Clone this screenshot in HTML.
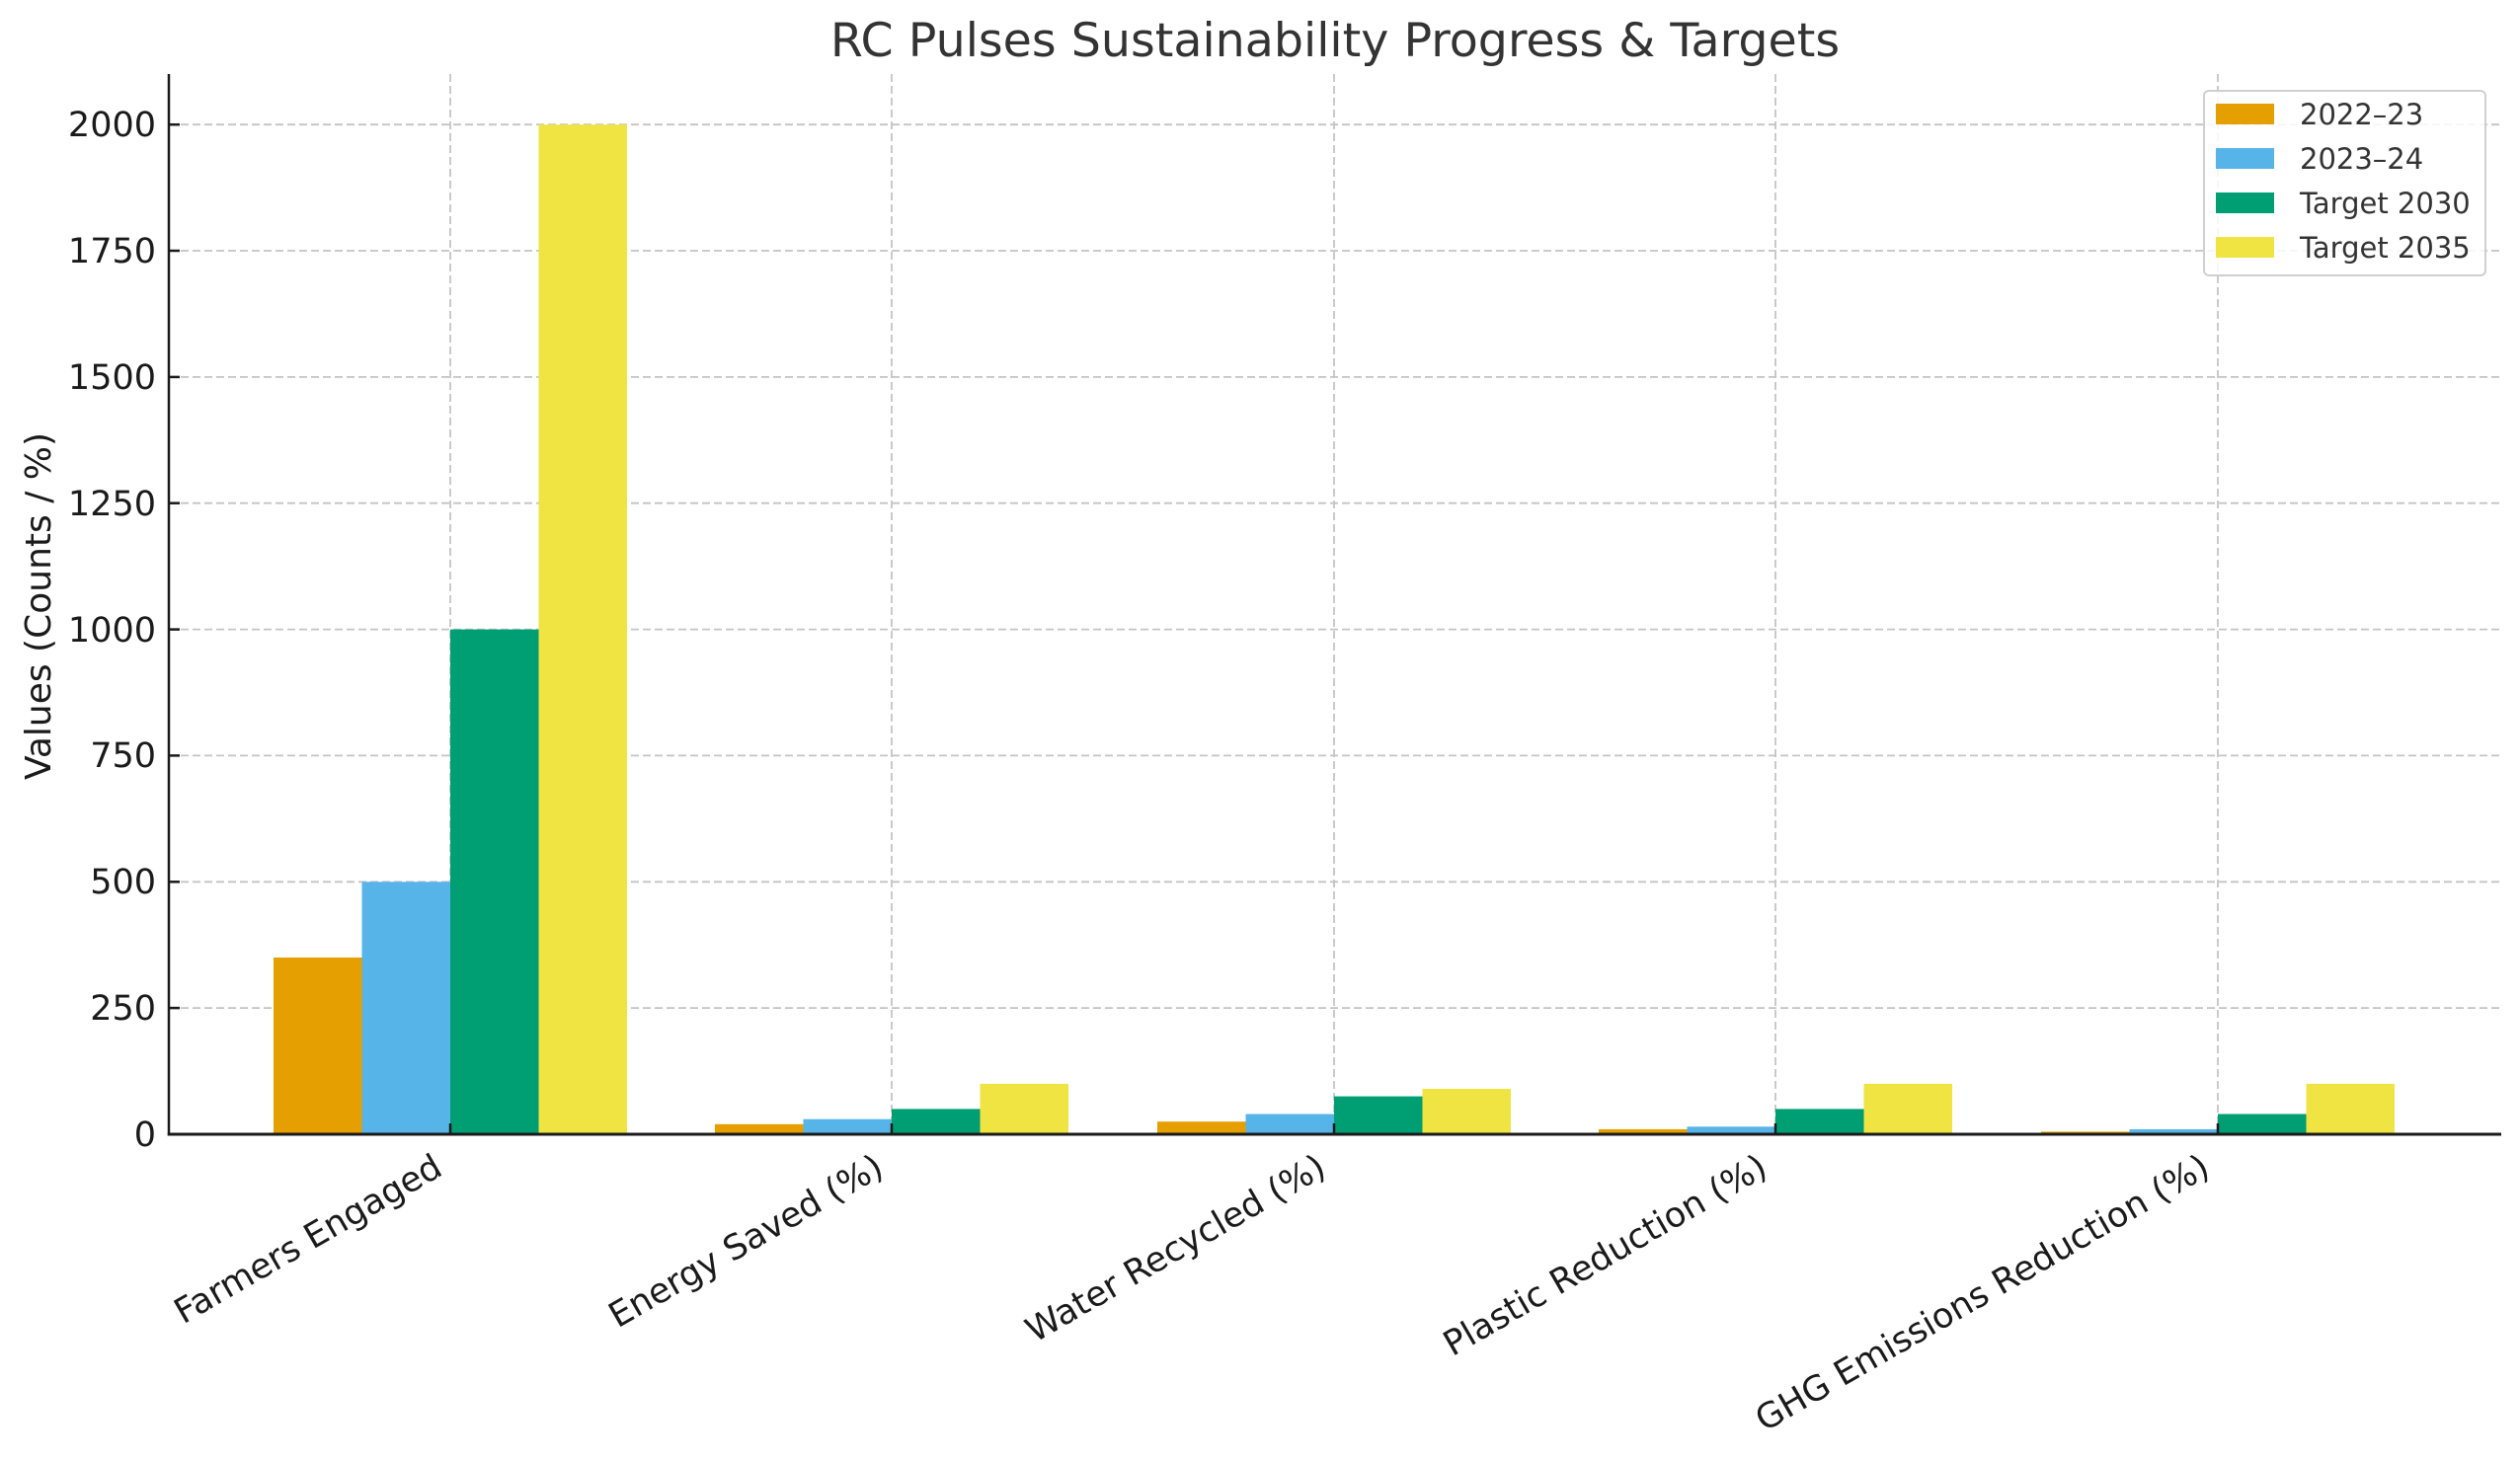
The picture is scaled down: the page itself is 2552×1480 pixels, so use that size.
<!DOCTYPE html>
<html><head><meta charset="utf-8"><style>html,body{margin:0;padding:0;background:#fff}svg{display:block}</style></head>
<body>
<svg xmlns="http://www.w3.org/2000/svg" width="2552" height="1480" viewBox="0 0 2552 1480" font-family="'DejaVu Sans','Liberation Sans',sans-serif">
<rect width="2552" height="1480" fill="#fff"/>
<text x="1352" y="57" font-size="47.5" fill="#333" text-anchor="middle">RC Pulses Sustainability Progress &amp; Targets</text>
<g stroke="#c4c4c4" stroke-width="1.8" stroke-dasharray="8,4" fill="none">
<line x1="171" x2="2533" y1="1021.1" y2="1021.1"/>
<line x1="171" x2="2533" y1="893.3" y2="893.3"/>
<line x1="171" x2="2533" y1="765.4" y2="765.4"/>
<line x1="171" x2="2533" y1="637.6" y2="637.6"/>
<line x1="171" x2="2533" y1="509.7" y2="509.7"/>
<line x1="171" x2="2533" y1="381.9" y2="381.9"/>
<line x1="171" x2="2533" y1="254" y2="254"/>
<line x1="171" x2="2533" y1="126.2" y2="126.2"/>
<line x1="456" x2="456" y1="75" y2="1149"/>
<line x1="903" x2="903" y1="75" y2="1149"/>
<line x1="1351" x2="1351" y1="75" y2="1149"/>
<line x1="1798" x2="1798" y1="75" y2="1149"/>
<line x1="2246" x2="2246" y1="75" y2="1149"/>
</g>
<g>
<rect x="277" y="970" width="89.5" height="179" fill="#E69F00"/>
<rect x="366.5" y="893.3" width="89.5" height="255.7" fill="#56B4E9"/>
<rect x="456" y="637.6" width="89.5" height="511.4" fill="#009E73"/>
<rect x="545.5" y="126.2" width="89.5" height="1022.8" fill="#F0E442"/>

<rect x="724" y="1138.8" width="89.5" height="10.2" fill="#E69F00"/>
<rect x="813.5" y="1133.7" width="89.5" height="15.3" fill="#56B4E9"/>
<rect x="903" y="1123.4" width="89.5" height="25.6" fill="#009E73"/>
<rect x="992.5" y="1097.9" width="89.5" height="51.1" fill="#F0E442"/>

<rect x="1172" y="1136.2" width="89.5" height="12.8" fill="#E69F00"/>
<rect x="1261.5" y="1128.5" width="89.5" height="20.5" fill="#56B4E9"/>
<rect x="1351" y="1110.6" width="89.5" height="38.4" fill="#009E73"/>
<rect x="1440.5" y="1103" width="89.5" height="46" fill="#F0E442"/>

<rect x="1619" y="1143.9" width="89.5" height="5.1" fill="#E69F00"/>
<rect x="1708.5" y="1141.3" width="89.5" height="7.7" fill="#56B4E9"/>
<rect x="1798" y="1123.4" width="89.5" height="25.6" fill="#009E73"/>
<rect x="1887.5" y="1097.9" width="89.5" height="51.1" fill="#F0E442"/>

<rect x="2067" y="1146.4" width="89.5" height="2.6" fill="#E69F00"/>
<rect x="2156.5" y="1143.9" width="89.5" height="5.1" fill="#56B4E9"/>
<rect x="2246" y="1128.5" width="89.5" height="20.5" fill="#009E73"/>
<rect x="2335.5" y="1097.9" width="89.5" height="51.1" fill="#F0E442"/>
</g>
<g stroke="#1a1a1a" stroke-width="2.5">
<line x1="171" x2="171" y1="75" y2="1150.5"/>
<line x1="169.8" x2="2533" y1="1149" y2="1149" stroke-width="3"/>
<line x1="171" x2="182" y1="1021.1" y2="1021.1"/>
<line x1="171" x2="182" y1="893.3" y2="893.3"/>
<line x1="171" x2="182" y1="765.4" y2="765.4"/>
<line x1="171" x2="182" y1="637.6" y2="637.6"/>
<line x1="171" x2="182" y1="509.7" y2="509.7"/>
<line x1="171" x2="182" y1="381.9" y2="381.9"/>
<line x1="171" x2="182" y1="254" y2="254"/>
<line x1="171" x2="182" y1="126.2" y2="126.2"/>
<line x1="456" x2="456" y1="1149" y2="1138"/>
<line x1="903" x2="903" y1="1149" y2="1138"/>
<line x1="1351" x2="1351" y1="1149" y2="1138"/>
<line x1="1798" x2="1798" y1="1149" y2="1138"/>
<line x1="2246" x2="2246" y1="1149" y2="1138"/>
</g>
<g font-size="35" fill="#1a1a1a" text-anchor="end">
<text x="158" y="1161">0</text>
<text x="158" y="1033">250</text>
<text x="158" y="905">500</text>
<text x="158" y="777">750</text>
<text x="158" y="650">1000</text>
<text x="158" y="522">1250</text>
<text x="158" y="394">1500</text>
<text x="158" y="266">1750</text>
<text x="158" y="138">2000</text>
</g>
<text transform="translate(51,614) rotate(-90)" font-size="36" fill="#1a1a1a" text-anchor="middle">Values (Counts / %)</text>
<g font-size="35" fill="#1a1a1a" text-anchor="end">
<text transform="translate(450,1189) rotate(-30)">Farmers Engaged</text>
<text transform="translate(897,1189) rotate(-30)">Energy Saved (%)</text>
<text transform="translate(1345,1189) rotate(-30)">Water Recycled (%)</text>
<text transform="translate(1792,1189) rotate(-30)">Plastic Reduction (%)</text>
<text transform="translate(2240,1189) rotate(-30)">GHG Emissions Reduction (%)</text>
</g>
<rect x="2232" y="92" width="285" height="187" rx="5" fill="#fff" fill-opacity="0.85" stroke="#d0d0d0" stroke-width="2"/>
<rect x="2244" y="105" width="59" height="21" fill="#E69F00"/>
<rect x="2244" y="150" width="59" height="21" fill="#56B4E9"/>
<rect x="2244" y="195" width="59" height="21" fill="#009E73"/>
<rect x="2244" y="240" width="59" height="21" fill="#F0E442"/>
<g font-size="29" fill="#333">
<text x="2329" y="126">2022–23</text>
<text x="2329" y="171">2023–24</text>
<text x="2329" y="216">Target 2030</text>
<text x="2329" y="261">Target 2035</text>
</g>
</svg>
</body></html>
